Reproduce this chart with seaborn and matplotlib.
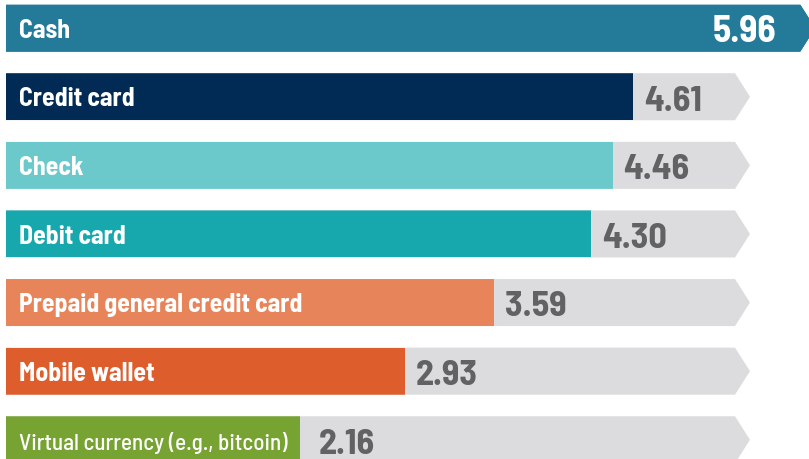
import numpy as np
import matplotlib
matplotlib.use("Agg")
import matplotlib.pyplot as plt
from matplotlib.patches import Polygon
import pandas as pd
import seaborn as sns

# data
methods = ["Cash", "Credit card", "Check", "Debit card",
           "Prepaid general credit card", "Mobile wallet",
           "Virtual currency (e.g., bitcoin)"]
scores = [5.96, 4.61, 4.46, 4.30, 3.59, 2.93, 2.16]
colors = ["#247a99", "#012b54", "#6cc9cb", "#17a8ad",
          "#e8845a", "#de5d2c", "#76a331"]

df = pd.DataFrame({"method": methods, "score": scores})

sns.set_theme(style="white")
plt.rcParams["font.family"] = ["Barlow Semi Condensed", "DejaVu Sans"]

fig = plt.figure(figsize=(8.09, 4.59), dpi=100)
ax = fig.add_axes([0, 0, 1, 1])

bar_h = 0.686
track_end = 5.36   # where the grey arrows stop
tip = 0.11

# grey arrow tracks (the first row's track takes the bar colour)
for i, m in enumerate(methods):
    end = track_end if i > 0 else 5.84
    fc = "#dcdcde" if i > 0 else colors[0]
    pts = [(0, i - bar_h / 2), (end, i - bar_h / 2), (end + tip, i),
           (end, i + bar_h / 2), (0, i + bar_h / 2)]
    poly = Polygon(pts, closed=True, facecolor=fc, edgecolor="none", zorder=0.5)
    ax.add_patch(poly)

sns.barplot(data=df, x="score", y="method", hue="method", palette=colors,
            width=bar_h, legend=False, saturation=1, ax=ax, orient="h")

# clip bars to their arrow shape (matters for the top bar)
tracks = [p for p in ax.patches if isinstance(p, Polygon)]
for p in ax.patches:
    if isinstance(p, Polygon):
        continue
    row = int(round(p.get_y() + p.get_height() / 2))
    p.set_edgecolor("none")
    p.set_clip_path(tracks[row])

for i, (m, v) in enumerate(zip(methods, scores)):
    small = i == len(methods) - 1
    ax.text(0.096, i + 0.04, m, color="white", fontsize=16.6 if small else 18.6,
            fontweight="medium" if small else "bold", va="center", ha="left",
            zorder=5)
    if i == 0:
        ax.text(5.66, i + 0.05, f"{v:.2f}", color="white", fontsize=27,
                fontweight="bold", va="center", ha="right", zorder=5)
    else:
        gap = 0.14 if small else 0.08
        ax.text(v + gap, i + 0.07, f"{v:.2f}", color="#616264", fontsize=26,
                fontweight="bold", va="center", ha="left", zorder=5)

ax.set_xlim(-0.044, 5.904)
ax.set_ylim(6.28, -0.41)
ax.axis("off")

fig.savefig("out.png", dpi=100)
